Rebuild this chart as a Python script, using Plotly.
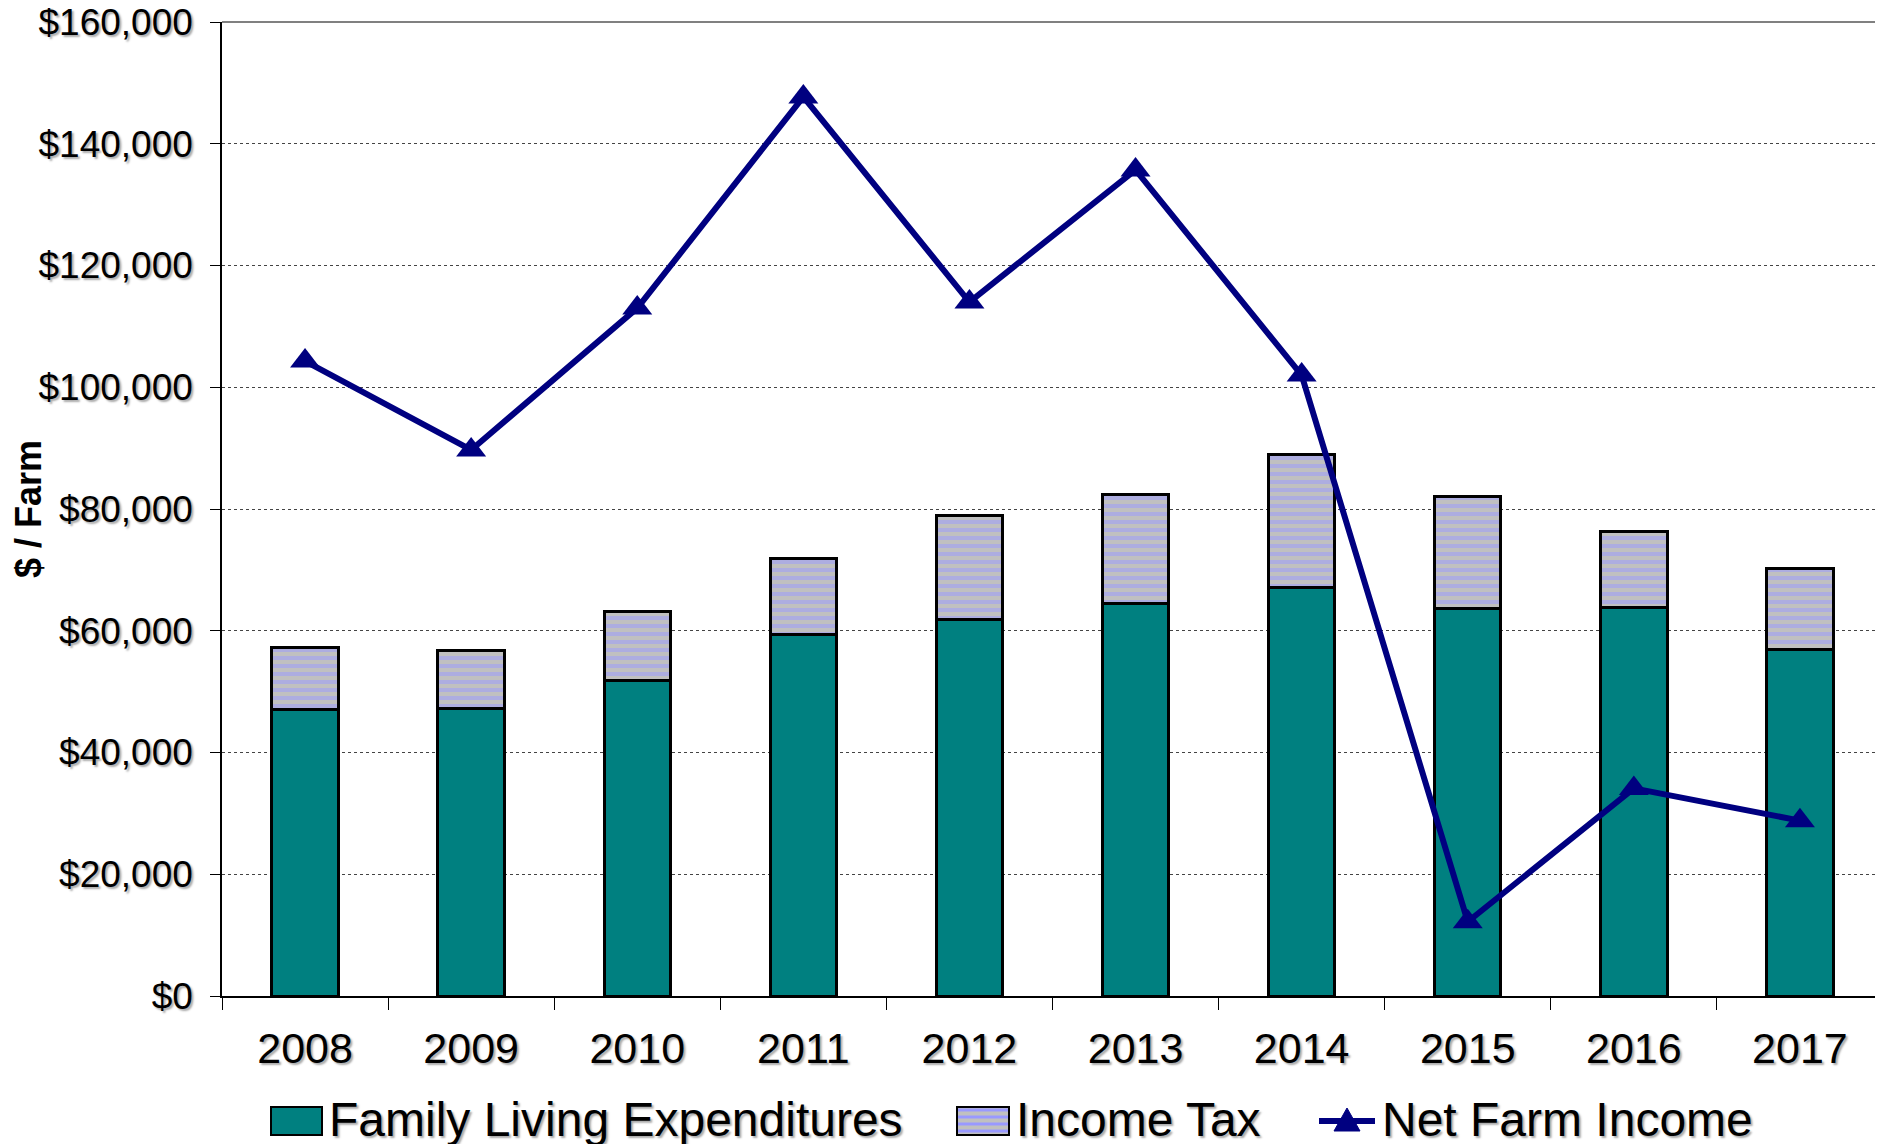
import plotly.graph_objects as go

lata = ["2008", "2009", "2010", "2011", "2012", "2013", "2014", "2015", "2016", "2017"]
wydatki_rodziny = [47000, 47300, 51900, 59400, 61900, 64500, 67100, 63700, 63900, 57000]
podatek = [10200, 9500, 11200, 12400, 17000, 17900, 21900, 18300, 12400, 13200]
dochod_netto = [104300, 89700, 113000, 147700, 114000, 135700, 102000, 12200, 34100, 28800]

y_ticks = [0, 20000, 40000, 60000, 80000, 100000, 120000, 140000, 160000]
y_labels = ["$0", "$20,000", "$40,000", "$60,000", "$80,000", "$100,000", "$120,000", "$140,000", "$160,000"]

FONT = "Liberation Sans, Arial, sans-serif"
CIEN = "2px 2px 2px #aaaaaa"
TEAL = "#008080"
NAVY = "#000080"

# strona ma margines 8 px, wiec wszystko liczone w pikselach strony minus 8
OFF = 8
SZER, WYS = 1883 - OFF, 1144 - OFF
L, R, T, B = 222 - OFF, 1883 - OFF, 22 - OFF, 996 - OFF
W, H = R - L, B - T


def px_x(x):
    return (x - OFF - L) / W


def px_y(y):
    return (B - (y - OFF)) / H


fig = go.Figure()
fig.add_trace(go.Bar(
    x=lata, y=wydatki_rodziny, name="Family Living Expenditures",
    marker=dict(color=TEAL, line=dict(color="black", width=3)),
))
fig.add_trace(go.Bar(
    x=lata, y=podatek, name="Income Tax",
    marker=dict(color="#c0c0c0", line=dict(color="black", width=3),
                pattern=dict(shape="-", fgcolor="#9999ff", bgcolor="#c0c0c0",
                             size=8, solidity=0.5)),
))
fig.add_trace(go.Scatter(
    x=lata, y=dochod_netto, name="Net Farm Income", mode="lines+markers",
    line=dict(color=NAVY, width=6),
    marker=dict(symbol="triangle-up", size=26, color=NAVY),
))

# legenda rysowana recznie (duze kwadraty jak w Excelu)
ksztalty = [dict(type="line", xref="paper", yref="paper", x0=0, x1=1, y0=1, y1=1,
                 line=dict(color="#808080", width=2))]
ly0, ly1 = 1107, 1135
ksztalty.append(dict(type="rect", xref="paper", yref="paper",
                     x0=px_x(271), x1=px_x(322), y0=px_y(ly1), y1=px_y(ly0),
                     fillcolor=TEAL, line=dict(color="black", width=2)))
ksztalty.append(dict(type="rect", xref="paper", yref="paper",
                     x0=px_x(957), x1=px_x(1009), y0=px_y(ly1), y1=px_y(ly0),
                     fillcolor="#c0c0c0", line=dict(width=0)))
for yy in range(ly0 + 3, ly1 - 1, 7):
    ksztalty.append(dict(type="line", xref="paper", yref="paper",
                         x0=px_x(958), x1=px_x(1008), y0=px_y(yy), y1=px_y(yy),
                         line=dict(color="#9999ff", width=3)))
ksztalty.append(dict(type="rect", xref="paper", yref="paper",
                     x0=px_x(957), x1=px_x(1009), y0=px_y(ly1), y1=px_y(ly0),
                     line=dict(color="black", width=2)))
ksztalty.append(dict(type="line", xref="paper", yref="paper",
                     x0=px_x(1319), x1=px_x(1375), y0=px_y(1121), y1=px_y(1121),
                     line=dict(color=NAVY, width=6)))
ksztalty.append(dict(type="path", xref="paper", yref="paper",
                     path=f"M {px_x(1334)} {px_y(1131)} L {px_x(1360)} {px_y(1131)} "
                          f"L {px_x(1347)} {px_y(1108)} Z",
                     fillcolor=NAVY, line=dict(color=NAVY, width=1)))

napisy = []
for tekst, xp in [("Family Living Expenditures", 327), ("Income Tax", 1014),
                  ("Net Farm Income", 1380)]:
    napisy.append(dict(text=tekst, xref="paper", yref="paper", x=px_x(xp), y=px_y(1119),
                       xanchor="left", yanchor="middle", showarrow=False,
                       font=dict(size=48, shadow=CIEN)))

fig.update_layout(
    barmode="stack", bargap=0.6,
    width=SZER, height=WYS,
    margin=dict(l=L, r=SZER - R, t=T, b=WYS - B, autoexpand=False),
    plot_bgcolor="white", paper_bgcolor="white",
    font=dict(family=FONT, color="black"),
    showlegend=False,
    shapes=ksztalty,
    annotations=napisy,
)
fig.update_xaxes(
    range=[-0.5, 9.5], automargin=False,
    showline=True, linecolor="black", linewidth=1.5,
    ticks="outside", tickson="boundaries", ticklen=12, tickcolor="black",
    tickfont=dict(size=43, shadow=CIEN), ticklabelstandoff=14,
    showgrid=False,
)
fig.update_yaxes(
    range=[0, 160000], tickvals=y_ticks, ticktext=y_labels, automargin=False,
    ticklabeloverflow="allow",
    showline=True, linecolor="black", linewidth=1.5,
    ticks="outside", ticklen=10, tickcolor="black",
    tickfont=dict(size=37, shadow=CIEN), ticklabelstandoff=10,
    showgrid=True, gridcolor="#444444", gridwidth=1, griddash="dot",
    zeroline=False,
    title=dict(text="<b>$ / Farm</b>", font=dict(size=36), standoff=12),
)

fig.write_html("out.html")
